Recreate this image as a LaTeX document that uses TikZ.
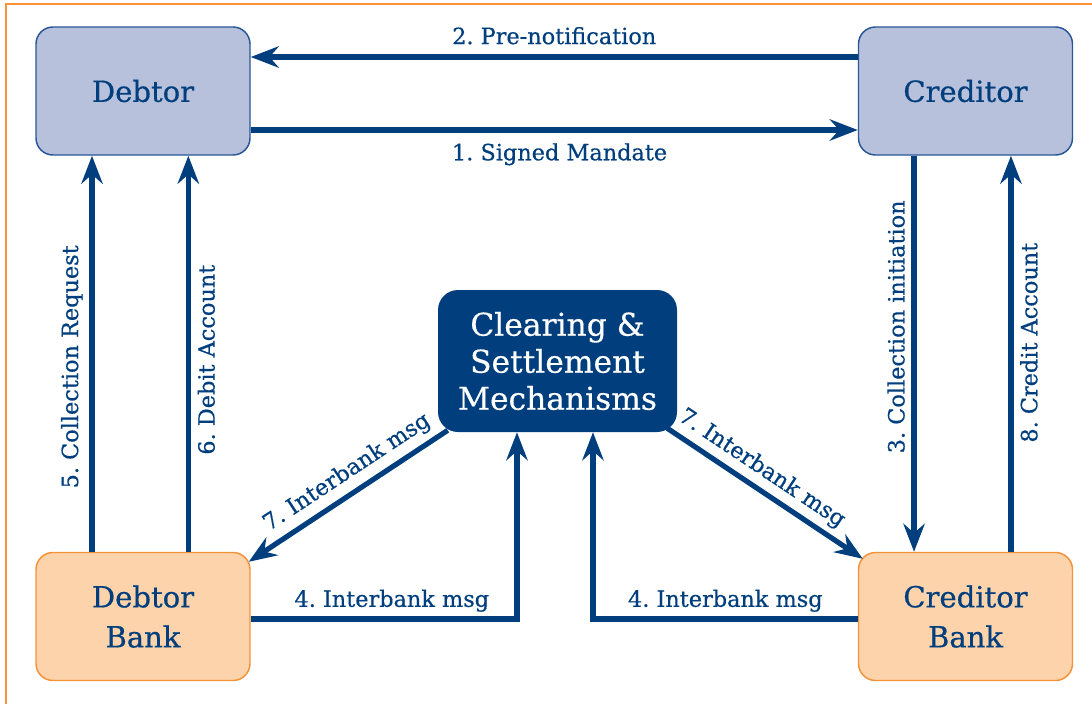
\documentclass[tikz,border=0pt]{standalone}
\usepackage{fontspec}
\setmainfont{DejaVu Serif}
\newfontfamily\slab{DejaVu Serif}[BoldFont=DejaVu Serif, BoldFeatures={FakeBold=0.5}]
\usetikzlibrary{arrows.meta,calc}
\definecolor{dblue}{RGB}{0,62,125}
\definecolor{bfill}{RGB}{184,193,219}
\definecolor{bbord}{RGB}{40,86,150}
\definecolor{ofill}{RGB}{252,211,170}
\definecolor{obord}{RGB}{244,146,58}
\definecolor{frameor}{RGB}{247,148,52}
\frenchspacing
\tikzset{
  party/.style={draw=bbord, fill=bfill, rounded corners=12.75pt, minimum width=160.5pt,
    minimum height=96pt, text=dblue, font=\slab\bfseries\fontsize{21.8}{30}\selectfont, align=center, line width=1.1pt},
  bankbox/.style={party, draw=obord, fill=ofill},
  hub/.style={fill=dblue, text=white, rounded corners=15pt, minimum width=179.25pt,
    minimum height=106.5pt, font=\slab\bfseries\fontsize{23.5}{27.75}\selectfont, align=center},
  flow/.style={draw=dblue, line width=3.9pt, -{Stealth[length=21pt,width=16pt,inset=7pt]}},
  lbl/.style={text=dblue, font=\slab\bfseries\fontsize{16.8}{19}\selectfont, inner sep=5pt},
}
\begin{document}
\frenchspacing
\begin{tikzpicture}[x=0.75pt,y=-0.75pt]
\useasboundingbox (0,0) rectangle (1092,704);
\draw[frameor, line width=1pt] (6,704) -- (6,4) -- (1092,4);

\node[party] (debtor) at (143,91) {Debtor};
\node[party] (creditor) at (965.5,91) {Creditor};
\node[bankbox] (dbank) at (143,616.5) {Debtor\\Bank};
\node[bankbox] (cbank) at (965.5,616.5) {Creditor\\Bank};
\node[hub] (clear) at (557.5,361) {Clearing \&\\Settlement\\Mechanisms};

% top horizontal
\draw[flow] ([yshift=25.5pt]creditor.west) -- node[lbl,above=2.5pt]{2. Pre-notification} ([yshift=25.5pt]debtor.east);
\draw[flow] ([yshift=-29.25pt]debtor.east) -- node[lbl,below=3pt,xshift=4pt]{1. Signed Mandate} ([yshift=-29.25pt]creditor.west);

% left verticals
\draw[flow] ([xshift=-38.25pt]dbank.north) -- node[lbl,pos=0.467,rotate=90,anchor=south]{5. Collection Request} ([xshift=-38.25pt]debtor.south);
\draw[flow] ([xshift=34pt]dbank.north) -- node[lbl,pos=0.485,rotate=90,anchor=north]{6. Debit Account} ([xshift=34pt]debtor.south);

% right verticals
\draw[flow] ([xshift=-38.6pt]creditor.south) -- node[lbl,pos=0.432,rotate=90,anchor=south]{3. Collection initiation} ([xshift=-38.6pt]cbank.north);
\draw[flow] ([xshift=34.1pt]cbank.north) -- node[lbl,pos=0.528,rotate=90,anchor=north]{8. Credit Account} ([xshift=34.1pt]creditor.south);

% interbank 4
\draw[flow] ([yshift=-1.9pt]dbank.east) -| node[lbl,pos=0.265,above=-1.5pt]{4. Interbank msg} ([xshift=-30.4pt]clear.south);
\draw[flow] ([yshift=-1.9pt]cbank.west) -| node[lbl,pos=0.25,above=-1.5pt]{4. Interbank msg} ([xshift=26.6pt]clear.south);

% interbank 7
\draw[flow] ([shift={(7.5pt,1.5pt)}]clear.south west) -- node[lbl,sloped,above=0pt,pos=0.45]{7. Interbank msg} ([shift={(-1.5pt,-7.5pt)}]dbank.north east);
\draw[flow] ([shift={(-7.5pt,3pt)}]clear.south east) -- node[lbl,sloped,above=-1pt,pos=0.43]{7. Interbank msg} ([shift={(3.75pt,-5.25pt)}]cbank.north west);
\end{tikzpicture}
\end{document}
